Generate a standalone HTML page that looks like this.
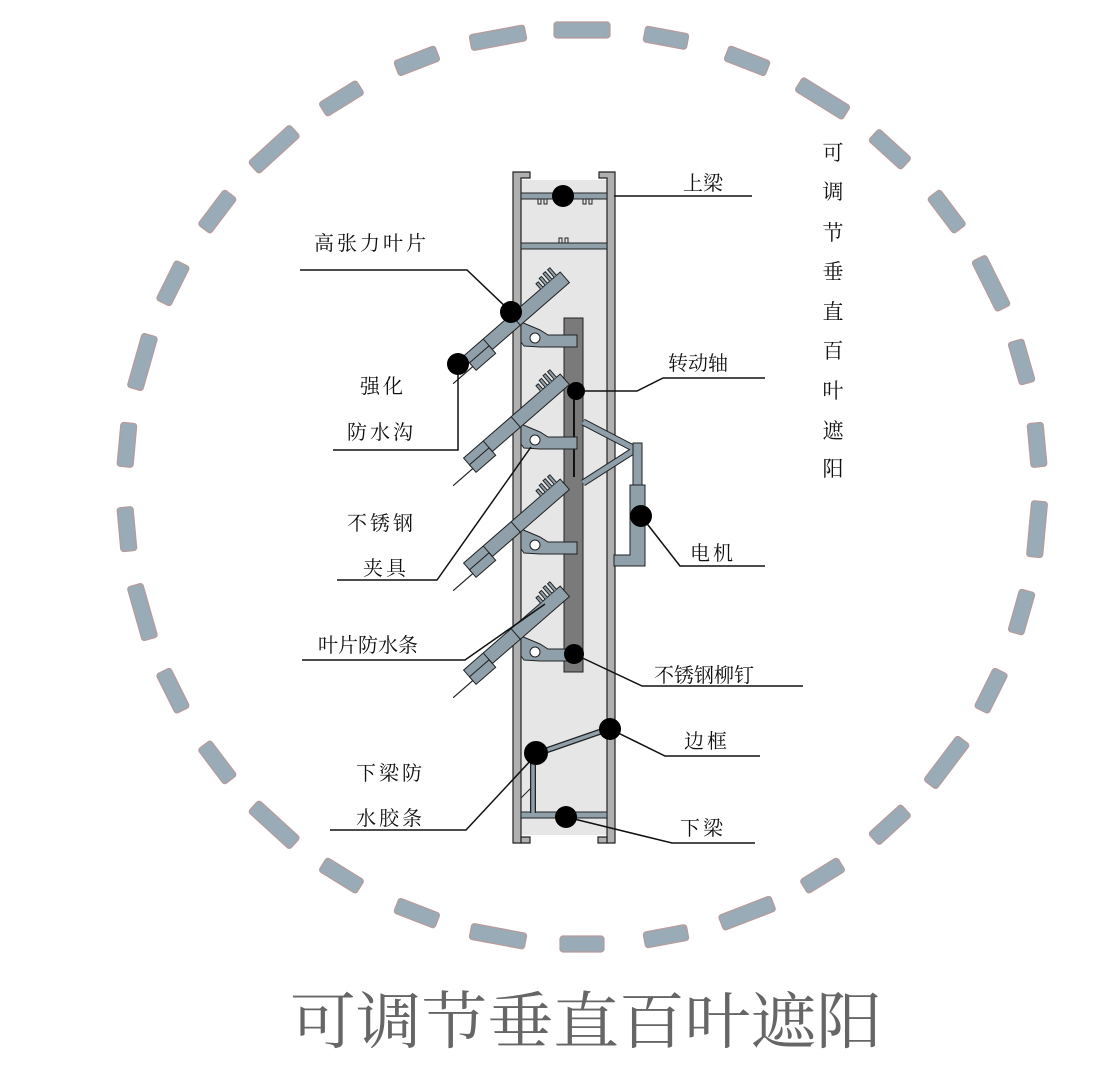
<!DOCTYPE html>
<html><head><meta charset="utf-8"><style>
html,body{margin:0;padding:0;background:#fff;}
svg{display:block;}
text{font-family:"Liberation Serif","Noto Serif CJK SC",serif;}
</style></head><body>
<svg width="1105" height="1088" viewBox="0 0 1105 1088" xmlns="http://www.w3.org/2000/svg" xmlns:xlink="http://www.w3.org/1999/xlink">
<defs>
<rect id="dl" x="-28" y="-8" width="56" height="16" rx="3"/>
<rect id="ds" x="-22" y="-8" width="44" height="16" rx="3"/>
<g id="blade">
<rect x="-66" y="-7" width="128" height="14" fill="#8fa0ab" stroke="#222" stroke-width="1"/>
<rect x="-66" y="2" width="26" height="10" fill="#8fa0ab" stroke="#222" stroke-width="1"/>
<line x1="-40" y1="-7" x2="-40" y2="7" stroke="#222"/>
<line x1="-3" y1="-7" x2="-3" y2="7" stroke="#222"/>
<path d="M36,-7 v-7 h3 v7 M42,-7 v-9 h3 v9 M48,-7 v-10 h3 v10 M54,-7 v-10 h3 v10" fill="#8fa0ab" stroke="#222" stroke-width="1"/>
<line x1="-66" y1="7" x2="-92" y2="7" stroke="#222" stroke-width="1.2"/>
</g>
</defs>

<g fill="#98abb6" stroke="#b89a9a" stroke-width="1.2">
<use xlink:href="#dl" href="#dl" transform="rotate(0,582,487) translate(582,30)"/>
<use xlink:href="#ds" href="#ds" transform="rotate(10.59,582,487) translate(582,30)"/>
<use xlink:href="#ds" href="#ds" transform="rotate(21.18,582,487) translate(582,30)"/>
<use xlink:href="#dl" href="#dl" transform="rotate(31.76,582,487) translate(582,30)"/>
<use xlink:href="#ds" href="#ds" transform="rotate(42.35,582,487) translate(582,30)"/>
<use xlink:href="#ds" href="#ds" transform="rotate(52.94,582,487) translate(582,30)"/>
<use xlink:href="#dl" href="#dl" transform="rotate(63.53,582,487) translate(582,30)"/>
<use xlink:href="#ds" href="#ds" transform="rotate(74.12,582,487) translate(582,30)"/>
<use xlink:href="#ds" href="#ds" transform="rotate(84.71,582,487) translate(582,30)"/>
<use xlink:href="#dl" href="#dl" transform="rotate(95.29,582,487) translate(582,30)"/>
<use xlink:href="#ds" href="#ds" transform="rotate(105.88,582,487) translate(582,30)"/>
<use xlink:href="#ds" href="#ds" transform="rotate(116.47,582,487) translate(582,30)"/>
<use xlink:href="#dl" href="#dl" transform="rotate(127.06,582,487) translate(582,30)"/>
<use xlink:href="#ds" href="#ds" transform="rotate(137.65,582,487) translate(582,30)"/>
<use xlink:href="#ds" href="#ds" transform="rotate(148.24,582,487) translate(582,30)"/>
<use xlink:href="#dl" href="#dl" transform="rotate(158.82,582,487) translate(582,30)"/>
<use xlink:href="#ds" href="#ds" transform="rotate(169.41,582,487) translate(582,30)"/>
<use xlink:href="#ds" href="#ds" transform="rotate(180,582,487) translate(582,30)"/>
<use xlink:href="#dl" href="#dl" transform="rotate(190.59,582,487) translate(582,30)"/>
<use xlink:href="#ds" href="#ds" transform="rotate(201.18,582,487) translate(582,30)"/>
<use xlink:href="#ds" href="#ds" transform="rotate(211.76,582,487) translate(582,30)"/>
<use xlink:href="#dl" href="#dl" transform="rotate(222.35,582,487) translate(582,30)"/>
<use xlink:href="#ds" href="#ds" transform="rotate(232.94,582,487) translate(582,30)"/>
<use xlink:href="#ds" href="#ds" transform="rotate(243.53,582,487) translate(582,30)"/>
<use xlink:href="#dl" href="#dl" transform="rotate(254.12,582,487) translate(582,30)"/>
<use xlink:href="#ds" href="#ds" transform="rotate(264.71,582,487) translate(582,30)"/>
<use xlink:href="#ds" href="#ds" transform="rotate(275.29,582,487) translate(582,30)"/>
<use xlink:href="#dl" href="#dl" transform="rotate(285.88,582,487) translate(582,30)"/>
<use xlink:href="#ds" href="#ds" transform="rotate(296.47,582,487) translate(582,30)"/>
<use xlink:href="#ds" href="#ds" transform="rotate(307.06,582,487) translate(582,30)"/>
<use xlink:href="#dl" href="#dl" transform="rotate(317.65,582,487) translate(582,30)"/>
<use xlink:href="#ds" href="#ds" transform="rotate(328.24,582,487) translate(582,30)"/>
<use xlink:href="#ds" href="#ds" transform="rotate(338.82,582,487) translate(582,30)"/>
<use xlink:href="#dl" href="#dl" transform="rotate(349.41,582,487) translate(582,30)"/>
</g>

<!-- frame interior -->
<rect x="521" y="180" width="86" height="655" fill="#e6e6e6"/>
<path d="M513,172 H530 V178 H521 V843 H513 Z" fill="#b0b0b0" stroke="#222" stroke-width="1.2"/>
<path d="M530,843 H521 V837 H530 Z" fill="#b0b0b0" stroke="#222" stroke-width="1.2"/>
<path d="M615,172 H599 V178 H607 V843 H615 Z" fill="#b0b0b0" stroke="#222" stroke-width="1.2"/>
<path d="M598,843 H607 V837 H598 Z" fill="#b0b0b0" stroke="#222" stroke-width="1.2"/>
<rect x="521" y="193" width="86" height="6" fill="#8fa0ab" stroke="#222" stroke-width="1"/>
<path d="M538,199 v5 h3 v-5 M544,199 v5 h3 v-5 M583,199 v5 h3 v-5 M589,199 v5 h3 v-5" fill="none" stroke="#222" stroke-width="1"/>
<rect x="521" y="243" width="86" height="6" fill="#8fa0ab" stroke="#222" stroke-width="1"/>
<path d="M559,243 v-5 h3 v5 M565,243 v-5 h3 v5" fill="none" stroke="#222" stroke-width="1"/>
<rect x="521" y="812" width="86" height="6" fill="#8fa0ab" stroke="#222" stroke-width="1"/>
<path d="M533,813 V755 L608,729" fill="none" stroke="#222" stroke-width="6"/>
<path d="M533,813 V755 L608,729" fill="none" stroke="#8fa0ab" stroke-width="3.5"/>
<line x1="521" y1="798" x2="531" y2="788" stroke="#222" stroke-width="1"/>

<!-- shaft -->
<rect x="564" y="318" width="19" height="354" fill="#7a7a7a" stroke="#222" stroke-width="1"/>
<line x1="574" y1="392" x2="574" y2="477" stroke="#111" stroke-width="2"/>

<!-- motor -->
<path d="M583,422 L633,448 M583,483 L633,451" stroke="#222" stroke-width="7" fill="none"/>
<path d="M583,422 L633,448 M583,483 L633,451" stroke="#8fa0ab" stroke-width="5" fill="none"/>
<rect x="633" y="443" width="9" height="45" fill="#8fa0ab" stroke="#222" stroke-width="1"/>
<path d="M630,485 H645 V566 H614 V555 H630 Z" fill="#8fa0ab" stroke="#222" stroke-width="1"/>

<!-- brackets -->
<g fill="#8fa0ab" stroke="#222" stroke-width="1">
<path d="M521,322 L540,330 L548,335 H577 V347 H540 L524,346 L521,342 Z"/>
<path d="M521,424 L540,432 L548,437 H577 V449 H540 L524,448 L521,444 Z"/>
<path d="M521,529 L540,537 L548,542 H577 V554 H540 L524,553 L521,549 Z"/>
<path d="M521,636 L540,644 L548,649 H577 V661 H540 L524,660 L521,656 Z"/>
</g>
<g fill="#fff" stroke="#222" stroke-width="1">
<circle cx="535" cy="338" r="5"/>
<circle cx="535" cy="440" r="5"/>
<circle cx="535" cy="545" r="5"/>
<circle cx="535" cy="652" r="5"/>
</g>
<use xlink:href="#blade" href="#blade" transform="translate(518,318) rotate(-41)"/>
<use xlink:href="#blade" href="#blade" transform="translate(518,420) rotate(-41)"/>
<use xlink:href="#blade" href="#blade" transform="translate(518,525) rotate(-41)"/>
<use xlink:href="#blade" href="#blade" transform="translate(518,632) rotate(-41)"/>

<!-- leader lines -->
<g fill="none" stroke="#111" stroke-width="1.5">
<path d="M614,196 H752"/>
<path d="M300,270 H467 L511,312"/>
<path d="M458,364 V450 H333"/>
<path d="M576,391 H637 L663,378 H765"/>
<path d="M337,580 H437 L531,447"/>
<path d="M641,516 L680,566 H765"/>
<path d="M302,660 H465 L545,604"/>
<path d="M574,654 L642,686 H803"/>
<path d="M610,729 L665,756 H760"/>
<path d="M533,758 L466,830 H330"/>
<path d="M566,817 L672,843 H755"/>
</g>
<g fill="#000">
<circle cx="563" cy="196" r="11"/>
<circle cx="511" cy="312" r="11"/>
<circle cx="458" cy="364" r="11"/>
<circle cx="576" cy="391" r="9"/>
<circle cx="641" cy="516" r="11"/>
<circle cx="574" cy="654" r="10"/>
<circle cx="610" cy="729" r="11"/>
<circle cx="536" cy="753" r="12"/>
<circle cx="566" cy="817" r="11"/>
</g>

<g font-size="20" fill="#111">
<text x="683" y="190">上梁</text>
<text x="314" y="250" letter-spacing="3">高张力叶片</text>
<text x="360" y="393" letter-spacing="3">强化</text>
<text x="347" y="439" letter-spacing="3">防水沟</text>
<text x="668" y="370">转动轴</text>
<text x="347" y="530" letter-spacing="3">不锈钢</text>
<text x="363" y="575" letter-spacing="3">夹具</text>
<text x="690" y="560" letter-spacing="3">电机</text>
<text x="318" y="652">叶片防水条</text>
<text x="654" y="682">不锈钢柳钉</text>
<text x="684" y="748" letter-spacing="3">边框</text>
<text x="356" y="780" letter-spacing="3">下梁防</text>
<text x="356" y="825" letter-spacing="3">水胶条</text>
<text x="680" y="835" letter-spacing="3">下梁</text>
</g>
<g font-size="21" fill="#111" text-anchor="middle">
<text x="833" y="160">可</text>
<text x="833" y="199">调</text>
<text x="833" y="240">节</text>
<text x="833" y="279">垂</text>
<text x="833" y="319">直</text>
<text x="833" y="358">百</text>
<text x="833" y="398">叶</text>
<text x="833" y="438">遮</text>
<text x="833" y="476">阳</text>
</g>
<text x="586" y="1043" font-size="62" fill="#666" text-anchor="middle" textLength="592" lengthAdjust="spacingAndGlyphs">可调节垂直百叶遮阳</text>
</svg>
</body></html>
